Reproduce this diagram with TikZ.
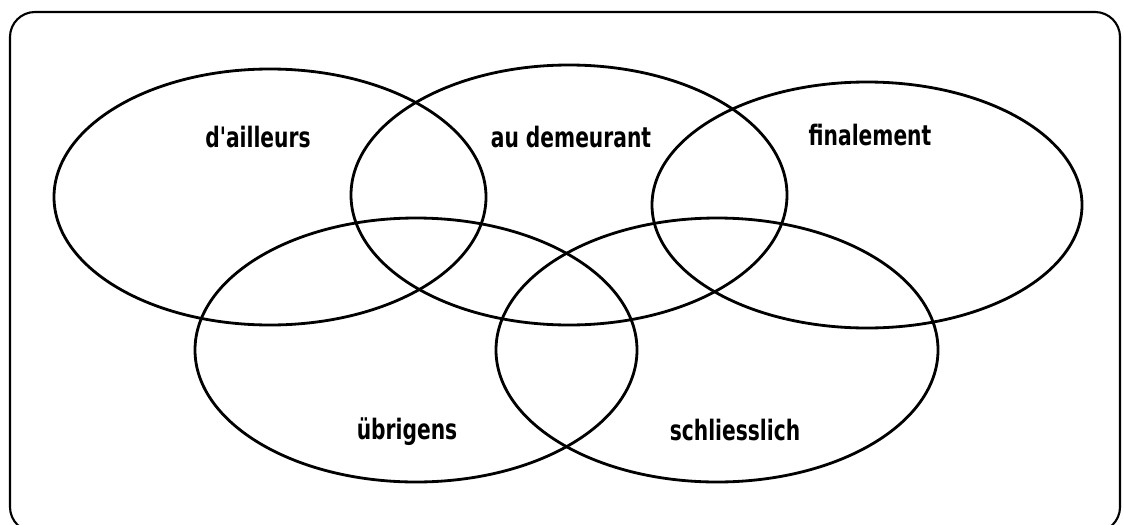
\documentclass[tikz,border=0pt]{standalone}
\usepackage{fontspec}
\newfontfamily\labelfont[FakeStretch=0.8]{DejaVu Sans Condensed}
\begin{document}
\begin{tikzpicture}[x=0.02cm, y=-0.02cm, line width=1.6pt,
    wort/.style={font=\labelfont\bfseries\fontsize{16}{19}\selectfont, anchor=base, inner sep=0pt}]
        \useasboundingbox (0,0) rectangle (1124,524);

        % Rahmen
        \draw[line width=1.2pt, rounded corners=0.5cm] (10,12) rectangle (1120,532);

        % Mittelpunkte
        \coordinate (A) at (270,197);
        \coordinate (B) at (569,195);
        \coordinate (C) at (867,205);
        \coordinate (D) at (416,350);
        \coordinate (E) at (717,350);

        % Halbachsen
        \def\rx{218}
        \def\ry{130}

        % Ellipsen oben
        \draw (A) ellipse [x radius=216, y radius=128];
        \draw (B) ellipse [x radius=\rx, y radius=\ry];
        \draw (C) ellipse [x radius=215, y radius=123];

        % Ellipsen unten
        \draw (D) ellipse [x radius=221, y radius=132];
        \draw (E) ellipse [x radius=221, y radius=132];

        % Beschriftungen
        \node[wort] (tA) at (258,147) {d'ailleurs};
        \node[wort] (tB) at (571,147) {au demeurant};
        \node[wort] (tC) at (870,145) {finalement};
        \node[wort] (tD) at (407,439) {übrigens};
        \node[wort] (tE) at (735,440) {schliesslich};
    \end{tikzpicture}
\end{document}
